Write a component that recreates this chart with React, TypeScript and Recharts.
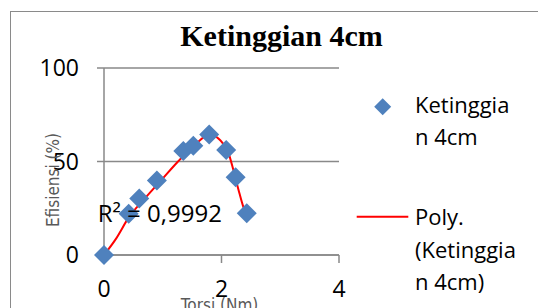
import React from "react";
import {
  CartesianGrid,
  ComposedChart,
  Legend,
  Line,
  ReferenceDot,
  Scatter,
  XAxis,
  YAxis
} from "recharts";

// measured points (Torsi Nm, Efisiensi %)
const torsi = [0, 0.42, 0.6, 0.9, 1.35, 1.52, 1.79, 2.08, 2.24, 2.43];
const efisiensi = [0, 22, 30.2, 39.8, 55.6, 58.4, 64.5, 56.2, 41.6, 22.3];

// polynomial trendline
const trendX = [0, 0.2, 0.43, 0.7, 0.98, 1.26, 1.55, 1.77, 1.87, 1.97, 2.12, 2.2, 2.29, 2.37, 2.43];
const trendY = [0, 8.5, 20.5, 30.4, 40.2, 50, 58.9, 63.9, 63.8, 61.6, 54.5, 45.7, 34.8, 25.9, 21.4];

const xTicks = [0, 2, 4];
const yTicks = [0, 50, 100];

const title = "Ketinggian 4cm";
const seriesName = "Ketinggian 4cm";
const trendName = "Poly. (Ketinggian 4cm)";
const legendLines: Record<string, string[]> = {
  [seriesName]: ["Ketinggia", "n 4cm"],
  [trendName]: ["Poly.", "(Ketinggia", "n 4cm)"]
};
const r2Text = "R² = 0,9992";

const points = torsi.map((x, i) => ({ x, y: efisiensi[i] }));
const trend = trendX.map((x, i) => ({ x, y: trendY[i] }));

const BLUE = "#4F81BD";
const GRID = "#898989";
const SANS = "'Open Sans', sans-serif";
const NARROW = "'Liberation Sans Narrow', 'DejaVu Sans Condensed', sans-serif";

function Diamond(props: any) {
  const { cx, cy } = props;
  const r = 10;
  return (
    <polygon
      points={`${cx},${cy - r} ${cx + r},${cy} ${cx},${cy + r} ${cx - r},${cy}`}
      fill={BLUE}
    />
  );
}

function LegendBox(props: any) {
  const payload = props.payload || [];
  const scatterItem = payload.find((p: any) => p.value === seriesName);
  const lineItem = payload.find((p: any) => p.value === trendName);
  return (
    <svg width={198} height={230} style={{ display: "block" }}>
      {scatterItem && (
        <g>
          <polygon points="42.7,18.2 51.2,26.7 42.7,35.2 34.2,26.7" fill={BLUE} />
          <text fontFamily={SANS} fontSize={22} fill="#000">
            {legendLines[seriesName].map((t, i) => (
              <tspan key={i} x={75} y={33 + i * 32}>
                {t}
              </tspan>
            ))}
          </text>
        </g>
      )}
      {lineItem && (
        <g>
          <line x1={16.7} x2={68.3} y1={136.7} y2={136.7} stroke="#FF0000" strokeWidth={2} />
          <text fontFamily={SANS} fontSize={22} fill="#000">
            {legendLines[trendName].map((t, i) => (
              <tspan key={i} x={75} y={145 + i * 32.5}>
                {t}
              </tspan>
            ))}
          </text>
        </g>
      )}
    </svg>
  );
}

export default function App() {
  return (
    <div
      style={{
        position: "fixed",
        left: 0,
        top: 0,
        width: 538,
        height: 308,
        background: "#fff",
        overflow: "hidden"
      }}
    >
      <div
        style={{
          position: "absolute",
          left: 10,
          top: 11,
          width: 560,
          height: 330,
          border: "1.5px solid #8a8a8a"
        }}
      />
      <div style={{ position: "absolute", left: 0, top: 0 }}>
        <ComposedChart
          width={538}
          height={308}
          margin={{ top: 68, right: 199, bottom: 0, left: 0 }}
        >
          <CartesianGrid vertical={false} stroke={GRID} strokeWidth={1.5} />
          <XAxis
            dataKey="x"
            type="number"
            domain={[0, 4]}
            ticks={xTicks}
            height={53}
            tickSize={8}
            tickMargin={18}
            axisLine={{ stroke: GRID, strokeWidth: 1.5 }}
            tickLine={{ stroke: GRID, strokeWidth: 1.5 }}
            tick={{ fill: "#000", fontSize: 23, fontFamily: SANS }}
          />
          <YAxis
            type="number"
            domain={[0, 100]}
            ticks={yTicks}
            width={104}
            tickSize={7}
            tickMargin={18}
            axisLine={{ stroke: GRID, strokeWidth: 1.5 }}
            tickLine={{ stroke: GRID, strokeWidth: 1.5 }}
            tick={{ fill: "#000", fontSize: 23, fontFamily: SANS }}
          />
          <Scatter
            name={seriesName}
            data={points}
            dataKey="y"
            fill={BLUE}
            shape={<Diamond />}
            isAnimationActive={false}
          />
          <Line
            name={trendName}
            data={trend}
            dataKey="y"
            type="monotone"
            stroke="#FF0000"
            strokeWidth={2}
            dot={false}
            activeDot={false}
            isAnimationActive={false}
          />
          <ReferenceDot
            x={0.95}
            y={22}
            r={0}
            fill="none"
            stroke="none"
            label={{
              value: r2Text,
              position: "center",
              fill: "#000",
              fontSize: 24,
              fontFamily: SANS
            }}
          />
          <Legend
            layout="vertical"
            align="center"
            verticalAlign="middle"
            content={<LegendBox />}
            wrapperStyle={{ left: 340, top: 80, width: 198, height: 230 }}
          />
        </ComposedChart>
      </div>
      <svg
        width={538}
        height={308}
        style={{ position: "absolute", left: 0, top: 0, pointerEvents: "none" }}
      >
        <text
          x={281.5}
          y={46}
          textAnchor="middle"
          fontFamily="'Liberation Serif', serif"
          fontWeight="bold"
          fontSize={30}
          fill="#000"
        >
          {title}
        </text>
        <text
          x={219.6}
          y={311}
          textAnchor="middle"
          fontFamily={NARROW}
          fontSize={17}
          fill="#595959"
        >
          Torsi (Nm)
        </text>
        <text
          transform="translate(59,180) rotate(-90)"
          textAnchor="middle"
          fontFamily={NARROW}
          fontSize={17}
          fill="#595959"
        >
          Efisiensi (%)
        </text>
      </svg>
    </div>
  );
}
